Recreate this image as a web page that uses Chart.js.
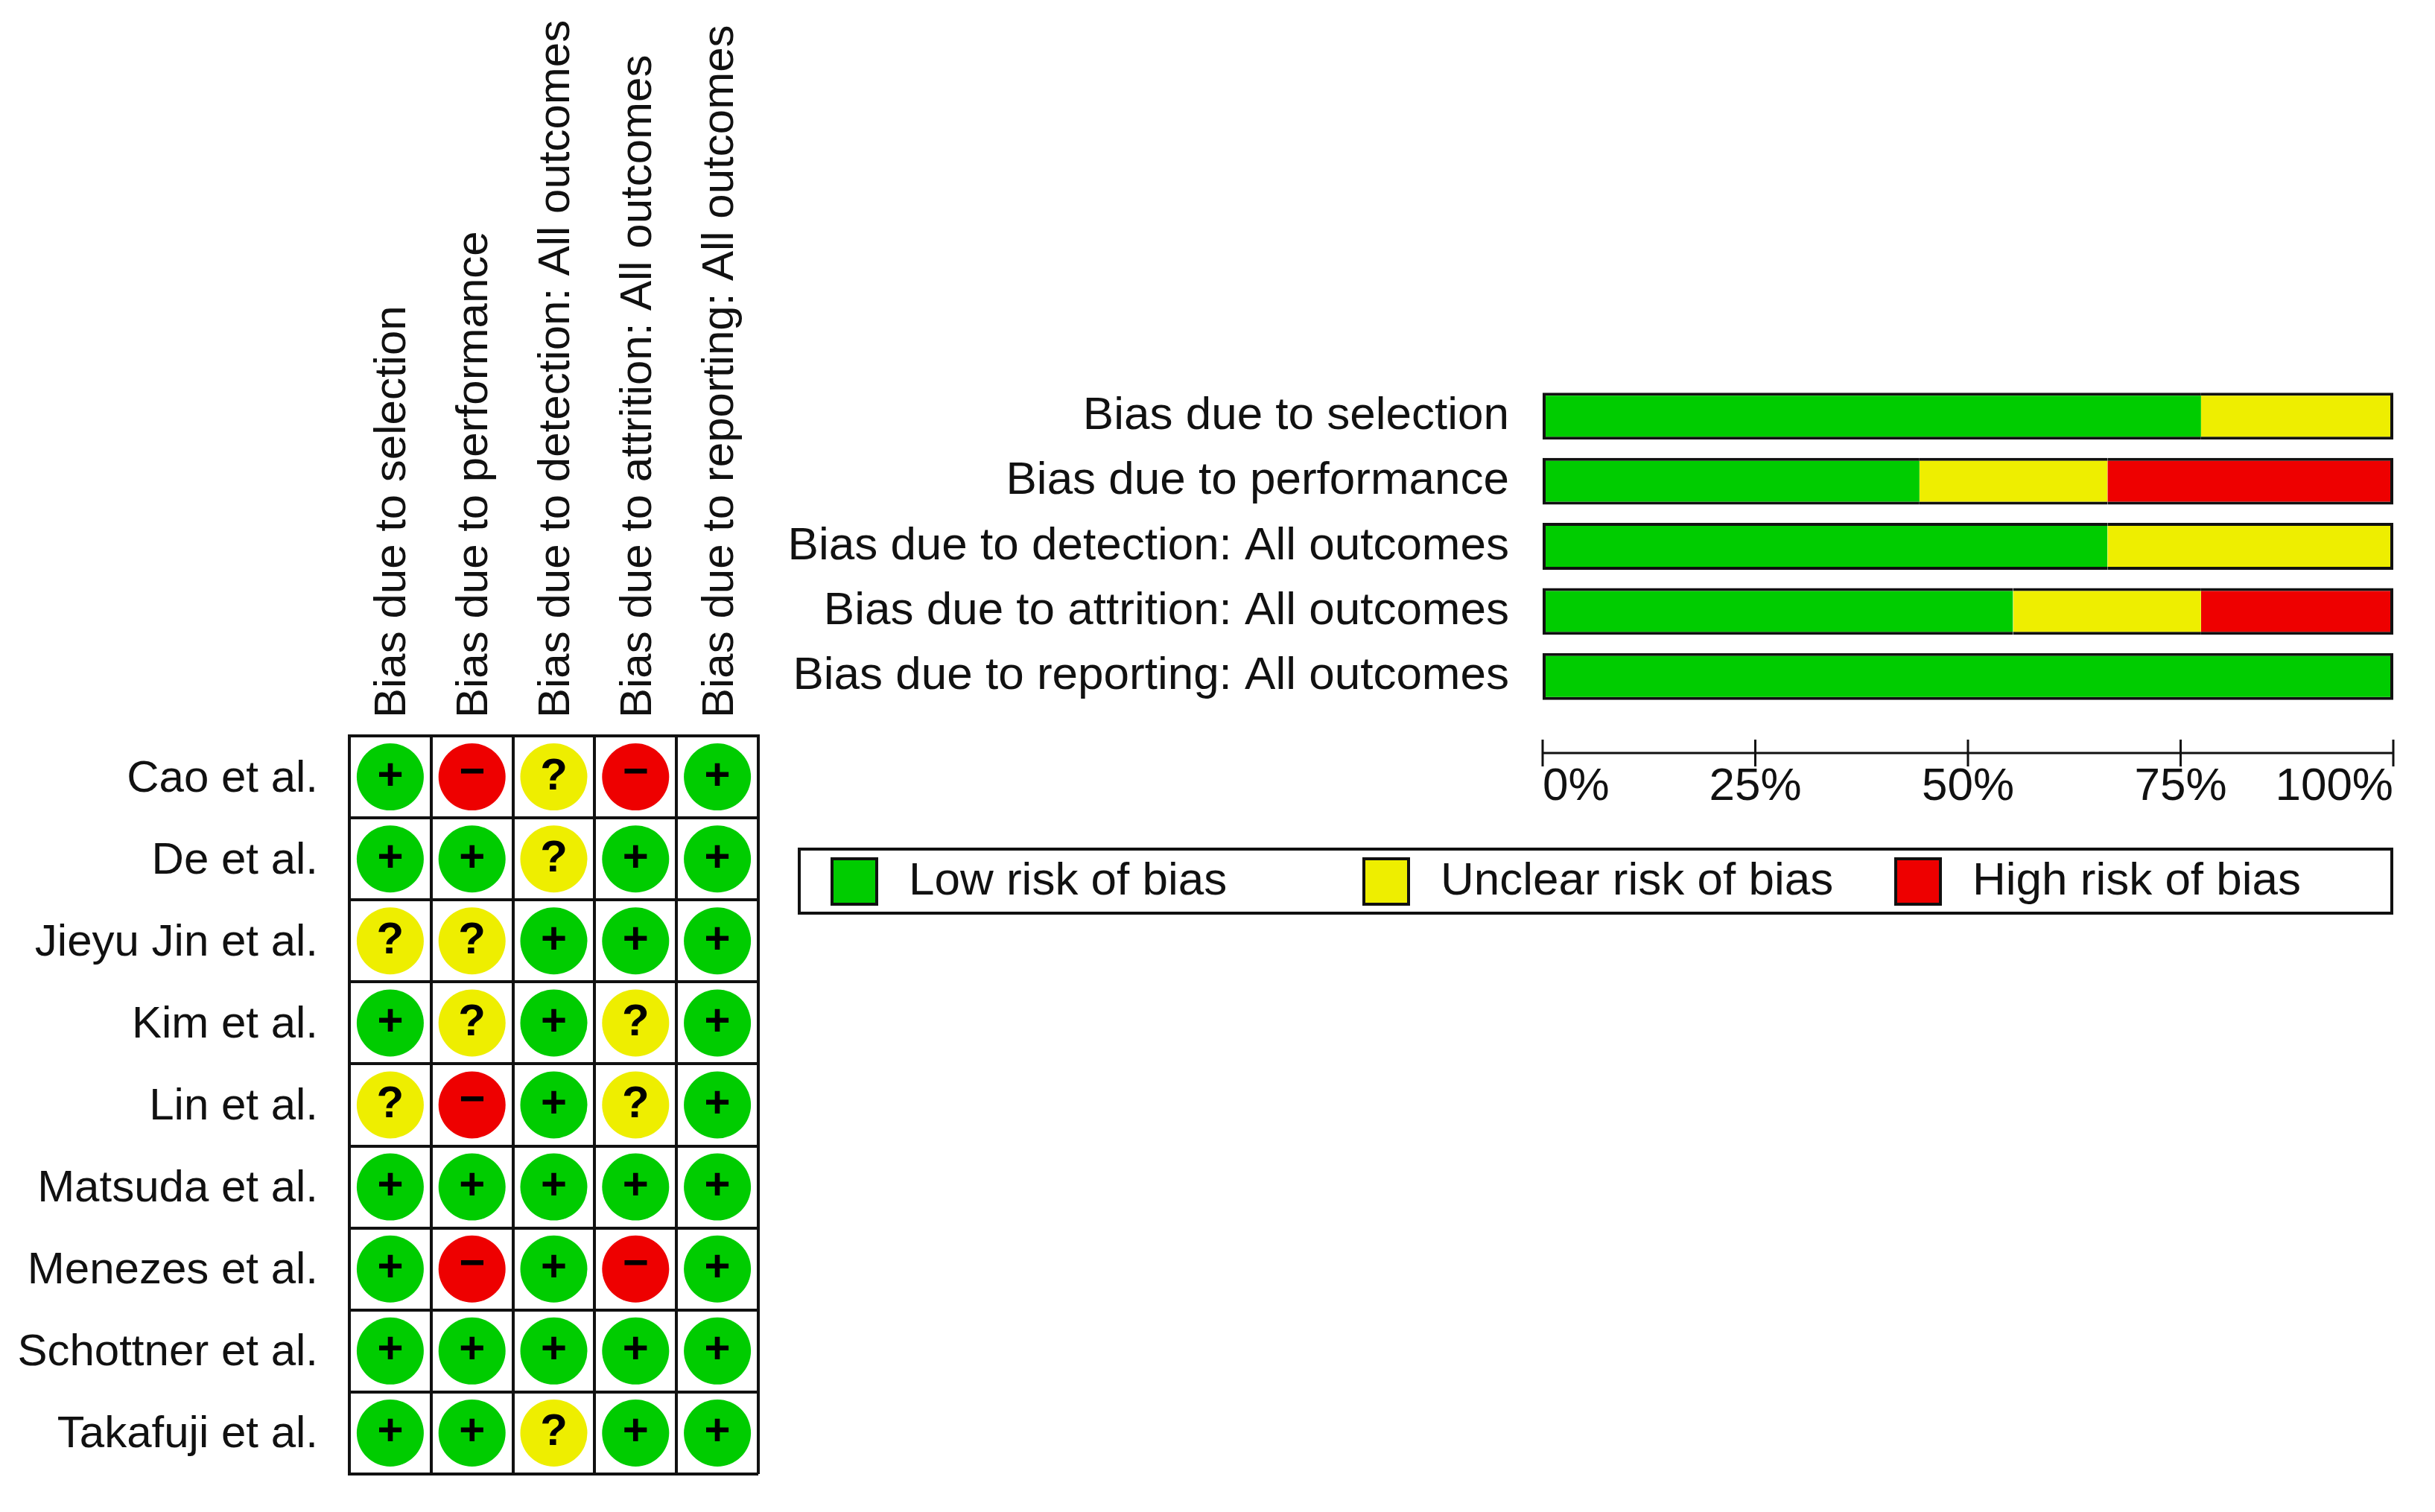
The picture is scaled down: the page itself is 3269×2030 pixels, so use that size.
<!DOCTYPE html>
<html>
<head>
<meta charset="utf-8">
<title>Risk of bias</title>
<script src="https://cdn.jsdelivr.net/npm/chart.js@4"></script>
<style>
    body { margin: 0; background: #fff; width: 3269px; height: 2030px; position: relative; overflow: hidden; font-family: "Liberation Sans", Arial, sans-serif; }
    canvas { position: absolute; }
    #gridChart { left: 0; top: 0; }
    #barChart { left: 1040px; top: 480px; }
    #legend { position: absolute; left: 1071px; top: 1138px; width: 2142px; height: 90px; box-sizing: border-box; border: 4px solid #111; display: flex; padding-left: 40px; }
    .item { flex: none; width: 714px; display: flex; align-items: center; font-size: 62px; color: #111; }
    .item span:last-child { position: relative; top: -4px; }
    .swatch { width: 64px; height: 65px; box-sizing: border-box; border: 4px solid #111; margin-right: 41px; }
</style>
</head>
<body>
<canvas id="gridChart" width="1063" height="2030"></canvas>
<canvas id="barChart" width="2229" height="640"></canvas>
<div id="legend"></div>
<script>
const domains = [
    'Bias due to selection',
    'Bias due to performance',
    'Bias due to detection: All outcomes',
    'Bias due to attrition: All outcomes',
    'Bias due to reporting: All outcomes'
];
const studies = ['Cao et al.', 'De et al.', 'Jieyu Jin et al.', 'Kim et al.', 'Lin et al.', 'Matsuda et al.', 'Menezes et al.', 'Schottner et al.', 'Takafuji et al.'];

const judgements = [
    ['+', '-', '?', '-', '+'],
    ['+', '+', '?', '+', '+'],
    ['?', '?', '+', '+', '+'],
    ['+', '?', '+', '?', '+'],
    ['?', '-', '+', '?', '+'],
    ['+', '+', '+', '+', '+'],
    ['+', '-', '+', '-', '+'],
    ['+', '+', '+', '+', '+'],
    ['+', '+', '?', '+', '+']
];

const lowRisk = [77.4, 44.3, 66.4, 55.3, 100];
const unclearRisk = [22.6, 22.1, 33.6, 22.1, 0];
const highRisk = [0, 33.6, 0, 22.6, 0];
const percentTicks = [0, 25, 50, 75, 100];
const legendLabels = ['Low risk of bias', 'Unclear risk of bias', 'High risk of bias'];

const GREEN = '#00cc00';
const YELLOW = '#eeee00';
const RED = '#ee0000';
const INK = '#111';
const FONT = '"Liberation Sans", Arial, sans-serif';
const colorFor = { '+': GREEN, '?': YELLOW, '-': RED };
const glyphFor = { '+': '+', '?': '?', '-': '\u2212' };

Chart.defaults.animation = false;
Chart.defaults.color = INK;
Chart.defaults.font.family = FONT;
Chart.defaults.plugins.legend.display = false;
Chart.defaults.plugins.tooltip.enabled = false;

// stops chart.js reserving room for tick labels that stick out past the plot
function noAutoPadding(scale) {
    scale.paddingTop = 0;
    scale.paddingBottom = 0;
    scale.paddingLeft = 0;
    scale.paddingRight = 0;
}

// points of the traffic light grid
const cells = [];
studies.forEach((study, row) => {
    domains.forEach((domain, col) => {
        cells.push({ x: domain, y: study, mark: judgements[row][col] });
    });
});

// writes + ? - on top of each circle
const markPlugin = {
    id: 'marks',
    afterDatasetsDraw(chart) {
        const ctx = chart.ctx;
        ctx.save();
        ctx.fillStyle = '#000';
        ctx.font = 'bold 60px ' + FONT;
        ctx.textAlign = 'center';
        ctx.textBaseline = 'middle';
        chart.getDatasetMeta(0).data.forEach((pt, i) => {
            const mark = cells[i].mark;
            ctx.fillText(glyphFor[mark], pt.x, pt.y + (mark === '-' ? -5 : 0));
        });
        ctx.restore();
    }
};

new Chart(document.getElementById('gridChart'), {
    type: 'scatter',
    data: {
        datasets: [{
            data: cells,
            pointRadius: 45,
            pointBorderWidth: 0,
            pointBackgroundColor: cells.map(c => colorFor[c.mark])
        }]
    },
    options: {
        responsive: false,
        // big points make chart.js keep a 45px margin anyway, so the canvas is wider to suit
        layout: { padding: { left: 0, top: 0, right: 45, bottom: 51 } },
        scales: {
            x: {
                type: 'category',
                labels: domains,
                position: 'top',
                offset: true,
                afterFit: scale => { noAutoPadding(scale); scale.height = 988; },
                grid: { offset: true, color: INK, lineWidth: 4, drawTicks: false },
                border: { color: INK, width: 4 },
                ticks: { autoSkip: false, minRotation: 90, maxRotation: 90, padding: 24, labelOffset: 76, font: { size: 60 } }
            },
            y: {
                type: 'category',
                labels: studies,
                offset: true,
                afterFit: scale => { noAutoPadding(scale); scale.width = 469; },
                grid: { offset: true, color: INK, lineWidth: 4, drawTicks: false },
                border: { color: INK, width: 4 },
                ticks: { autoSkip: false, padding: 42, labelOffset: 3, font: { size: 60 } }
            }
        }
    },
    plugins: [markPlugin]
});

// axis sits below the bars with a gap, ticks cross the line
const axisPlugin = {
    id: 'detachedAxis',
    afterDraw(chart) {
        const ctx = chart.ctx;
        const xs = chart.scales.x;
        const axisY = chart.chartArea.bottom + 59;
        ctx.save();
        ctx.strokeStyle = INK;
        ctx.lineWidth = 3;
        ctx.beginPath();
        ctx.moveTo(xs.getPixelForValue(0), axisY);
        ctx.lineTo(xs.getPixelForValue(100), axisY);
        percentTicks.forEach(t => {
            const px = xs.getPixelForValue(t);
            ctx.moveTo(px, axisY - 18);
            ctx.lineTo(px, axisY + 18);
        });
        ctx.stroke();
        ctx.restore();
    }
};

// one black outline round the whole stack, not round each part
function outline(ctx) {
    const i = ctx.dataIndex;
    const stacks = [lowRisk, unclearRisk, highRisk];
    const v = stacks[ctx.datasetIndex][i];
    if (!v) return 0;
    const isFirst = stacks.slice(0, ctx.datasetIndex).every(s => !s[i]);
    const isLast = stacks.slice(ctx.datasetIndex + 1).every(s => !s[i]);
    return { top: 4, bottom: 4, left: isFirst ? 4 : 0, right: isLast ? 4 : 0 };
}

function riskDataset(label, values, color) {
    return {
        label: label,
        data: values,
        backgroundColor: color,
        borderColor: INK,
        borderWidth: outline,
        borderSkipped: false,
        inflateAmount: 0,
        barPercentage: 0.72,
        categoryPercentage: 1
    };
}

new Chart(document.getElementById('barChart'), {
    type: 'bar',
    data: {
        labels: domains,
        datasets: [
            riskDataset(legendLabels[0], lowRisk, GREEN),
            riskDataset(legendLabels[1], unclearRisk, YELLOW),
            riskDataset(legendLabels[2], highRisk, RED)
        ]
    },
    options: {
        indexAxis: 'y',
        responsive: false,
        layout: { padding: { left: 0, top: 35, right: 56, bottom: 0 } },
        scales: {
            x: {
                stacked: true,
                min: 0,
                max: 100,
                afterBuildTicks: scale => { scale.ticks = percentTicks.map(v => ({ value: v })); },
                afterFit: scale => { noAutoPadding(scale); scale.height = 168; },
                grid: { display: false },
                border: { display: false },
                ticks: {
                    align: 'inner',
                    maxRotation: 0,
                    padding: 60,
                    font: { size: 62 },
                    callback: v => v + '%'
                }
            },
            y: {
                stacked: true,
                afterFit: scale => { noAutoPadding(scale); scale.width = 1031; },
                grid: { display: false },
                border: { display: false },
                ticks: { autoSkip: false, padding: 37, font: { size: 62 } }
            }
        }
    },
    plugins: [axisPlugin]
});

const legend = document.getElementById('legend');
[GREEN, YELLOW, RED].forEach((color, i) => {
    const item = document.createElement('div');
    item.className = 'item';
    item.innerHTML = `<span class="swatch" style="background:${color}"></span><span>${legendLabels[i]}</span>`;
    legend.appendChild(item);
});
</script>
</body>
</html>
